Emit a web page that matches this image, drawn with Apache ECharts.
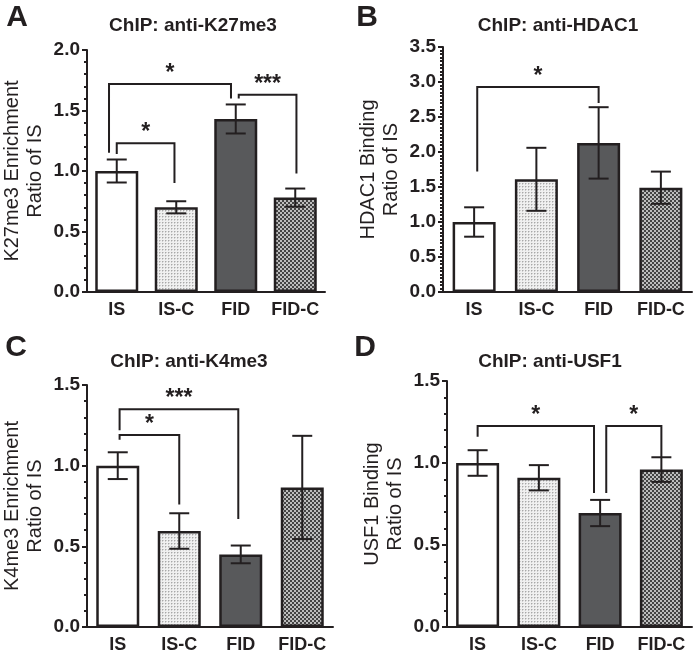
<!DOCTYPE html>
<html><head><meta charset="utf-8">
<script src="https://cdn.jsdelivr.net/npm/echarts@6/dist/echarts.min.js"></script>
<style>html,body{margin:0;padding:0;background:#fff}#c{width:694px;height:657px}</style>
</head><body><div id="c"></div>
<script>
// ---------- data ----------
const categories = ['IS', 'IS-C', 'FID', 'FID-C'];

const k27Mean = [1.00, 0.70, 1.43, 0.78];
const k27Err  = [0.095, 0.05, 0.12, 0.075];
const hdacMean = [1.00, 1.61, 2.13, 1.49];
const hdacErr  = [0.21, 0.45, 0.51, 0.23];
const k4Mean = [1.00, 0.595, 0.45, 0.865];
const k4Err  = [0.083, 0.11, 0.055, 0.32];
const usfMean = [1.00, 0.91, 0.695, 0.96];
const usfErr  = [0.078, 0.077, 0.08, 0.075];

// brackets: [xFrom (category pos), xTo, yTop, yLegFrom, yLegTo]
const k27Brackets = [[0.0, 0.97, 1.23, 1.14, 0.90], [-0.13, 1.92, 1.72, 1.15, 1.60], [2.05, 3.02, 1.63, 1.60, 0.98]];
const k27Stars = ['*', '*', '***'];
const hdacBrackets = [[0.05, 2.0, 2.93, 1.72, 2.70]];
const hdacStars = ['*'];
const k4Brackets = [[0.03, 1.0, 1.19, 1.16, 0.76], [0.03, 1.96, 1.35, 1.22, 0.67]];
const k4Stars = ['*', '***'];
const usfBrackets = [[0.0, 1.9, 1.226, 1.16, 0.817], [2.1, 3.0, 1.226, 0.817, 1.037]];
const usfStars = ['*', '*'];

const yMaxs = [2.0, 3.5, 1.5, 1.5];
const yMinorSplits = [5, 10, 5, 5];
const panelTitles = ['ChIP: anti-K27me3', 'ChIP: anti-HDAC1', 'ChIP: anti-K4me3', 'ChIP: anti-USF1'];
const panelLetters = ['A', 'B', 'C', 'D'];
const yNames = ['K27me3 Enrichment\nRatio of IS', 'HDAC1 Binding\nRatio of IS', 'K4me3 Enrichment\nRatio of IS', 'USF1 Binding\nRatio of IS'];

// ---------- styles ----------
const FONT = 'Arial, "Liberation Sans", Helvetica, sans-serif';
const INK = '#231f20';

function makePattern(size, draw) {
  const c = document.createElement('canvas');
  c.width = size; c.height = size;
  const g = c.getContext('2d');
  draw(g);
  return { image: c, repeat: 'repeat' };
}
const dotted = makePattern(3, g => { g.fillStyle = '#f0f0f0'; g.fillRect(0, 0, 3, 3); g.fillStyle = '#a8a8a8'; g.fillRect(0, 0, 1, 1); g.fillStyle = '#d0d0d0'; g.fillRect(1, 0, 1, 1); g.fillRect(0, 1, 1, 1); });
const checker = makePattern(4, g => { g.fillStyle = '#444444'; g.fillRect(0, 0, 4, 4); g.fillStyle = '#bdbdbd'; g.fillRect(0, 0, 2, 2); g.fillRect(2, 2, 2, 2); });
const barFills = ['#ffffff', dotted, '#58595b', checker];

const grids = [
  { left: 86, top: 50, width: 239, height: 242 },
  { left: 443, top: 47, width: 249, height: 245 },
  { left: 87, top: 385, width: 246, height: 242 },
  { left: 447, top: 381, width: 245, height: 246 }
];
const titlePos = [[193, 26], [558, 26], [189, 362], [550, 362]];
const letterPos = [[17, 18], [367, 18], [16, 348], [365, 348]];

const means = [k27Mean, hdacMean, k4Mean, usfMean];
const errs = [k27Err, hdacErr, k4Err, usfErr];
const brackets = [k27Brackets, hdacBrackets, k4Brackets, usfBrackets];
const stars = [k27Stars, hdacStars, k4Stars, usfStars];

const xAxes = [], yAxes = [], series = [], graphics = [];
for (let p = 0; p < 4; p++) {
  xAxes.push({
    type: 'category', gridIndex: p, data: categories,
    axisLine: { lineStyle: { color: INK, width: 2 } },
    axisTick: { alignWithLabel: true, interval: 0, length: 5, lineStyle: { color: INK, width: 2 } },
    axisLabel: { interval: 0, color: INK, fontFamily: FONT, fontWeight: 'bold', fontSize: 18, margin: 9 }
  });
  yAxes.push({
    type: 'value', gridIndex: p, min: 0, max: yMaxs[p], interval: 0.5,
    name: yNames[p], nameLocation: 'middle', nameGap: 40, nameRotate: 90,
    nameTextStyle: { color: INK, fontFamily: FONT, fontSize: 20, lineHeight: 23 },
    axisLine: { show: true, lineStyle: { color: INK, width: 2 } },
    axisTick: { show: true, length: 5, lineStyle: { color: INK, width: 2 } },
    minorTick: { show: true, splitNumber: yMinorSplits[p], length: 3, lineStyle: { color: INK, width: 2 } },
    splitLine: { show: false },
    axisLabel: { color: INK, fontFamily: FONT, fontWeight: 'bold', fontSize: 19, margin: 7, formatter: v => v.toFixed(1) }
  });
  series.push({
    type: 'bar', xAxisIndex: p, yAxisIndex: p, barWidth: 43,
    data: means[p].map((v, i) => ({ value: v, itemStyle: { color: barFills[i] } })),
    itemStyle: { borderColor: INK, borderWidth: 2.5 }, silent: true
  });
  const mp = means[p], ep = errs[p];
  series.push({
    type: 'custom', xAxisIndex: p, yAxisIndex: p, z: 5, silent: true,
    data: mp.map((v, i) => [i, v - ep[i], v + ep[i]]),
    renderItem: (params, api) => {
      const lo = api.coord([api.value(0), api.value(1)]);
      const hi = api.coord([api.value(0), api.value(2)]);
      const hw = 10;
      const st = { stroke: INK, lineWidth: 2, fill: null };
      return { type: 'group', children: [
        { type: 'line', shape: { x1: hi[0], y1: hi[1], x2: lo[0], y2: lo[1] }, style: st },
        { type: 'line', shape: { x1: hi[0] - hw, y1: hi[1], x2: hi[0] + hw, y2: hi[1] }, style: st },
        { type: 'line', shape: { x1: lo[0] - hw, y1: lo[1], x2: lo[0] + hw, y2: lo[1] }, style: st }
      ] };
    }
  });
  const bp = brackets[p], sp = stars[p];
  series.push({
    type: 'custom', xAxisIndex: p, yAxisIndex: p, z: 6, silent: true,
    data: bp.map((b, i) => [i]),
    renderItem: (params, api) => {
      const b = bp[params.dataIndex];
      const band = api.size([1, 0])[0];
      const xOf = x => api.coord([Math.round(x), 0])[0] + (x - Math.round(x)) * band;
      const yOf = y => api.coord([0, y])[1];
      const x1 = xOf(b[0]), x2 = xOf(b[1]);
      const yt = yOf(b[2]);
      return { type: 'group', children: [
        { type: 'polyline', shape: { points: [[x1, yOf(b[3])], [x1, yt], [x2, yt], [x2, yOf(b[4])]] }, style: { stroke: INK, lineWidth: 2, fill: null } },
        { type: 'text', style: { x: (x1 + x2) / 2, y: yt + 1, text: sp[params.dataIndex], textAlign: 'center', textVerticalAlign: 'bottom', fill: INK, font: 'bold 23px ' + FONT } }
      ] };
    }
  });
  graphics.push({ type: 'text', x: titlePos[p][0], y: titlePos[p][1], style: { text: panelTitles[p], textAlign: 'center', textVerticalAlign: 'middle', fill: INK, font: 'bold 19px ' + FONT } });
  graphics.push({ type: 'text', x: letterPos[p][0], y: letterPos[p][1], style: { text: panelLetters[p], textAlign: 'center', textVerticalAlign: 'middle', fill: INK, font: 'bold 30px ' + FONT } });
}

const chart = echarts.init(document.getElementById('c'), null, { renderer: 'canvas' });
chart.setOption({
  animation: false,
  backgroundColor: '#ffffff',
  grid: grids,
  xAxis: xAxes,
  yAxis: yAxes,
  series: series,
  graphic: graphics
});
</script></body></html>
